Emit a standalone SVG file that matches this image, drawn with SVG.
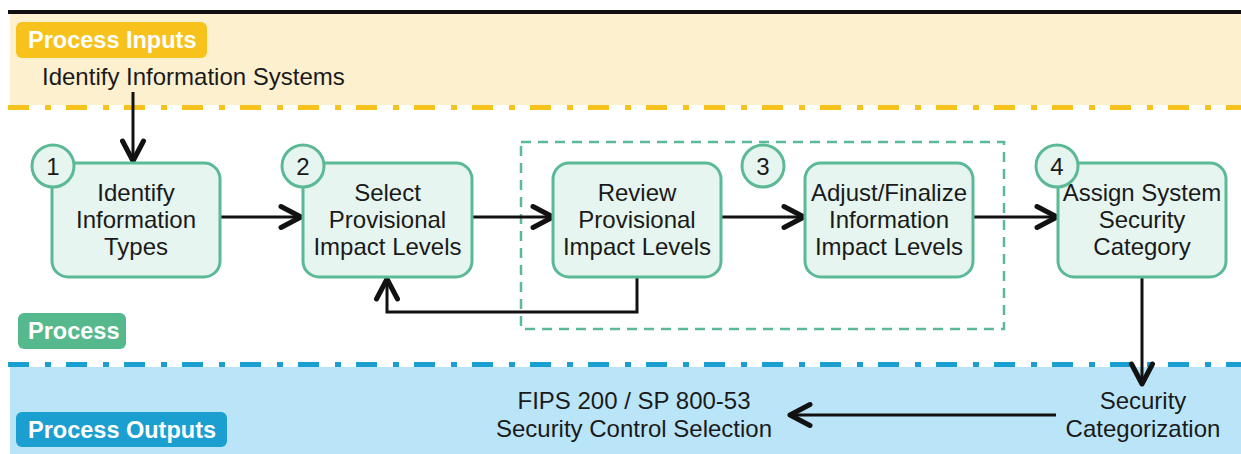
<svg xmlns="http://www.w3.org/2000/svg" width="1241" height="454" viewBox="0 0 1241 454">
<style>
.band-label{font-family:"Liberation Sans",Arial,sans-serif;font-weight:bold;font-size:23.5px;fill:#ffffff}
.txt{font-family:"Liberation Sans",Arial,sans-serif;font-size:24px;fill:#1a1a1a;text-anchor:middle}
.node rect{fill:#e6f5ef;stroke:#5bba95;stroke-width:3}
.num circle{fill:#e6f5ef;stroke:#5bba95;stroke-width:3}
.conn{fill:none;stroke:#111111;stroke-width:3}
</style>
<defs>
<marker id="chev" markerUnits="userSpaceOnUse" markerWidth="32" markerHeight="32" refX="26" refY="15" orient="auto">
<path d="M4,4.5 L24,15 L4,25.5" fill="none" stroke="#111111" stroke-width="5" stroke-linecap="round" stroke-linejoin="round"/>
</marker>
</defs>
<g id="bands">
<line x1="8" y1="12" x2="1241" y2="12" stroke="#111111" stroke-width="4"/>
<rect x="10" y="14" width="1231" height="91" fill="#fdf0cf"/>
<line x1="8" y1="107.5" x2="1241" y2="107.5" stroke="#f7c21b" stroke-width="5" stroke-dasharray="21 16 6 15"/>
<rect x="10" y="367" width="1231" height="87" fill="#bae5f8"/>
<line x1="8" y1="364.5" x2="1241" y2="364.5" stroke="#1b9ed0" stroke-width="5" stroke-dasharray="21 16 6 15"/>
</g>
<g id="label-inputs">
<rect x="16" y="22" width="191" height="36" rx="6" fill="#f7c21b"/>
<text class="band-label" x="28" y="48">Process Inputs</text>
</g>
<g id="label-process">
<rect x="18" y="313" width="108" height="36" rx="6" fill="#55b98d"/>
<text class="band-label" x="28" y="339">Process</text>
</g>
<g id="label-outputs">
<rect x="16" y="412" width="211" height="35" rx="6" fill="#1b9ed0"/>
<text class="band-label" x="28" y="438">Process Outputs</text>
</g>
<g id="input-systems">
<text class="txt" x="42" y="85" style="text-anchor:start">Identify Information Systems</text>
</g>
<g id="group-3">
<rect x="521" y="142" width="483" height="187" fill="none" stroke="#5bba95" stroke-width="2.5" stroke-dasharray="10 7"/>
</g>
<g id="connectors">
<line class="conn" x1="133" y1="92" x2="133" y2="163" marker-end="url(#chev)"/>
<line class="conn" x1="220" y1="217" x2="303" y2="217" marker-end="url(#chev)"/>
<line class="conn" x1="472" y1="217" x2="555" y2="217" marker-end="url(#chev)"/>
<line class="conn" x1="721" y1="217" x2="806" y2="217" marker-end="url(#chev)"/>
<line class="conn" x1="973" y1="217" x2="1059" y2="217" marker-end="url(#chev)"/>
<polyline class="conn" points="637,277 637,312 387,312 387,277" marker-end="url(#chev)"/>
<line class="conn" x1="1142" y1="277" x2="1142" y2="386" marker-end="url(#chev)"/>
<line class="conn" x1="1056" y1="415" x2="788" y2="415" marker-end="url(#chev)"/>
</g>
<g id="node1" class="node">
<rect x="52" y="163" width="168" height="114" rx="16"/>
<text class="txt" x="136" y="201">Identify</text>
<text class="txt" x="136" y="228">Information</text>
<text class="txt" x="136" y="255">Types</text>
</g>
<g id="node2" class="node">
<rect x="303" y="163" width="169" height="114" rx="16"/>
<text class="txt" x="387.5" y="201">Select</text>
<text class="txt" x="387.5" y="228">Provisional</text>
<text class="txt" x="387.5" y="255">Impact Levels</text>
</g>
<g id="node3a" class="node">
<rect x="553" y="163" width="168" height="114" rx="16"/>
<text class="txt" x="637" y="201">Review</text>
<text class="txt" x="637" y="228">Provisional</text>
<text class="txt" x="637" y="255">Impact Levels</text>
</g>
<g id="node3b" class="node">
<rect x="805" y="163" width="168" height="114" rx="16"/>
<text class="txt" x="889" y="201">Adjust/Finalize</text>
<text class="txt" x="889" y="228">Information</text>
<text class="txt" x="889" y="255">Impact Levels</text>
</g>
<g id="node4" class="node">
<rect x="1058" y="163" width="168" height="114" rx="16"/>
<text class="txt" x="1142" y="201">Assign System</text>
<text class="txt" x="1142" y="228">Security</text>
<text class="txt" x="1142" y="255">Category</text>
</g>
<g id="num1" class="num"><circle cx="53" cy="166" r="21"/><text class="txt" x="53" y="174.5">1</text></g>
<g id="num2" class="num"><circle cx="303" cy="166" r="21"/><text class="txt" x="303" y="174.5">2</text></g>
<g id="num3" class="num"><circle cx="763" cy="166" r="21"/><text class="txt" x="763" y="174.5">3</text></g>
<g id="num4" class="num"><circle cx="1057" cy="166" r="21"/><text class="txt" x="1057" y="174.5">4</text></g>
<g id="output-categorization">
<text class="txt" x="1143" y="409">Security</text>
<text class="txt" x="1143" y="437">Categorization</text>
</g>
<g id="output-controls">
<text class="txt" x="634" y="409">FIPS 200 / SP 800-53</text>
<text class="txt" x="634" y="437">Security Control Selection</text>
</g>
</svg>
